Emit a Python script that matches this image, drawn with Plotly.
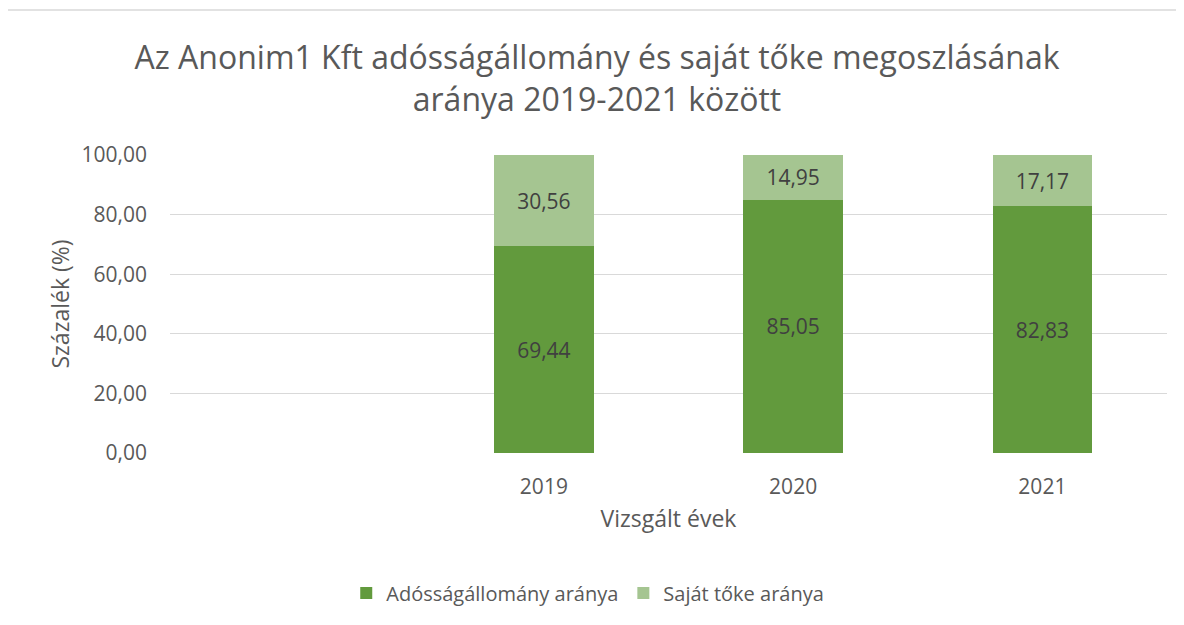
import plotly.graph_objects as go

categories = [" ", "2019", "2020", "2021"]
adossag = [None, 69.44, 85.05, 82.83]
sajat = [None, 30.56, 14.95, 17.17]
series_names = ["Adósságállomány aránya", "Saját tőke aránya"]
y_ticks = [0, 20, 40, 60, 80, 100]

FONT = "Open Sans"
fig = go.Figure()
fig.add_trace(go.Bar(x=categories, y=adossag, name=series_names[0],
                     marker=dict(color="#629A3D", line=dict(width=0)),
                     texttemplate="%{y:.2f}", textposition="inside", insidetextanchor="middle",
                     textfont=dict(color="#404040", size=21, family=FONT)))
fig.add_trace(go.Bar(x=categories, y=sajat, name=series_names[1],
                     marker=dict(color="#A5C591", line=dict(width=0)),
                     texttemplate="%{y:.2f}", textposition="inside", insidetextanchor="middle",
                     textfont=dict(color="#404040", size=21, family=FONT)))

# page body adds an 8px offset; margins compensate
fig.update_layout(
    width=1184, height=625,
    barmode="stack", bargap=0.6,
    separators=", ",
    paper_bgcolor="white", plot_bgcolor="white",
    margin=dict(l=162, r=25, t=147, b=180),
    font=dict(family=FONT, color="#595959"),
    title=dict(text="Az Anonim1 Kft adósságállomány és saját tőke megoszlásának<br>aránya 2019-2021 között",
               x=(597 - 8) / 1184, xanchor="center", y=1 - (69 - 8) / 625, yanchor="middle",
               font=dict(size=32, color="#595959", family=FONT)),
    showlegend=True,
    legend=dict(orientation="h", x=0.419, xanchor="center", y=-0.47, yanchor="middle",
                font=dict(size=20, color="#595959", family=FONT), itemwidth=30,
                traceorder="normal"),
)
fig.update_xaxes(type="category", categoryorder="array", categoryarray=categories,
                 showgrid=False, showline=False, zeroline=False, ticks="",
                 ticklabelstandoff=19,
                 tickfont=dict(size=21, color="#595959"),
                 title=dict(text="Vizsgált évek", font=dict(size=23, color="#595959"), standoff=11))
fig.update_yaxes(range=[0, 100], tickvals=y_ticks, tickformat=".2f",
                 showgrid=True, gridcolor="#D9D9D9", gridwidth=1.3, zeroline=False, showline=False,
                 ticks="", ticklabelstandoff=22,
                 tickfont=dict(size=21, color="#595959"),
                 title=dict(text="Százalék (%)", font=dict(size=23, color="#595959"), standoff=5))

fig.add_shape(type="rect", xref="paper", yref="paper",
              x0=(6 - 170) / 997, x1=1.2, y0=-1.0, y1=(453 - 10) / 298,
              line=dict(color="#D9D9D9", width=1.3), fillcolor="rgba(0,0,0,0)", layer="below")

fig.write_html("out.html")
